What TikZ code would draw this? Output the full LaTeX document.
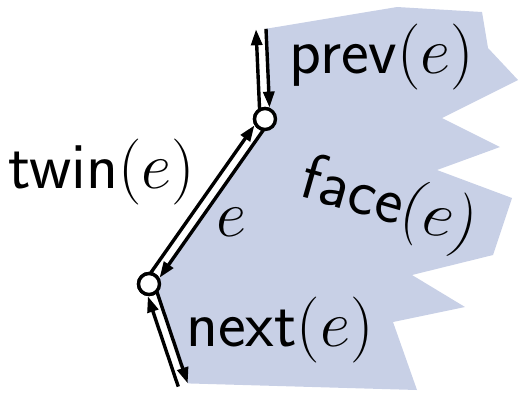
\RequirePackage{fix-cm}
\documentclass[tikz,border=0pt]{standalone}
\usetikzlibrary{arrows.meta, calc}

\definecolor{facefill}{RGB}{200,208,230}

\begin{document}
\begin{tikzpicture}[
    x=0.5pt, y=-0.5pt,
    >={Triangle[length=8pt,width=5.5pt]},
    vertex/.style={
        circle, draw, line width=1.7pt, fill=white,
        inner sep=0pt, minimum size=10.5pt
    },
    half/.style={->, line width=1.7pt},
    tovertex/.style={half, shorten >=5.6pt},
    lbl/.style={font=\fontsize{33}{38}\selectfont\sffamily, inner sep=0pt}
]

\useasboundingbox (0,0) rectangle (519,393);

%% ─── VERTICES AND FREE ENDS ─────────────────────────────────────────────

\coordinate (top) at (261,29);
\node[vertex] (u) at (265,119) {};
\node[vertex] (w) at (149,284) {};
\coordinate (bot) at (183,385);

%% ─── FACE (jagged region right of the chain) ────────────────────────────

\fill[facefill]
    ($(top)!2.5pt!90:(u)$) -- (397,7) -- (482,12) -- (488,48)
    -- (518,80) -- (442,118) -- (500,147) -- (437,170)
    -- (512,198) -- (493,255) -- (412,275) -- (465,307)
    -- (393,322) -- (417,390) -- ($(bot)!2.5pt!-90:(w)$)
    -- ($(w)!2.5pt!90:(bot)$) -- ($(w)!2.5pt!-90:(u)$)
    -- ($(u)!2.5pt!90:(w)$) -- ($(u)!2.5pt!-90:(top)$) -- cycle;

%% ─── HALF-EDGES ──────────────────────────────────────────────────────────

% top edge: up (left side) and prev(e) down (right side)
\draw[half] ($(u)!2.5pt!90:(top)$) -- ($(top)!2.5pt!-90:(u)$);
\draw[tovertex] ($(top)!2.5pt!90:(u)$) -- ($(u)!2.5pt!-90:(top)$);

% middle edge: twin(e) up, e down
\draw[tovertex] ($(w)!2.5pt!90:(u)$) -- ($(u)!2.5pt!-90:(w)$);
\draw[tovertex] ($(u)!2.5pt!90:(w)$) -- ($(w)!2.5pt!-90:(u)$);

% bottom edge: up into w (left side), next(e) down (right side)
\draw[tovertex] ($(bot)!2.5pt!90:(w)$) -- ($(w)!2.5pt!-90:(bot)$);
\draw[half] ($(w)!2.5pt!90:(bot)$) -- ($(bot)!2.5pt!-90:(w)$);

% circles back on top of the line ends
\node[vertex] at (u) {};
\node[vertex] at (w) {};

%% ─── LABELS ──────────────────────────────────────────────────────────────

\node[lbl] (prevlbl) at (382,57)  {prev$(e)$};
\node[lbl] (twinlbl) at (102,172) {twin$(e)$};
\node[lbl, rotate=-16] (facelbl) at (389,205) {face$(e)$};
\node[lbl] (elbl)    at (231,222) {$e$};
\node[lbl] (nextlbl) at (280,330) {next$(e)$};

\end{tikzpicture}
\end{document}
